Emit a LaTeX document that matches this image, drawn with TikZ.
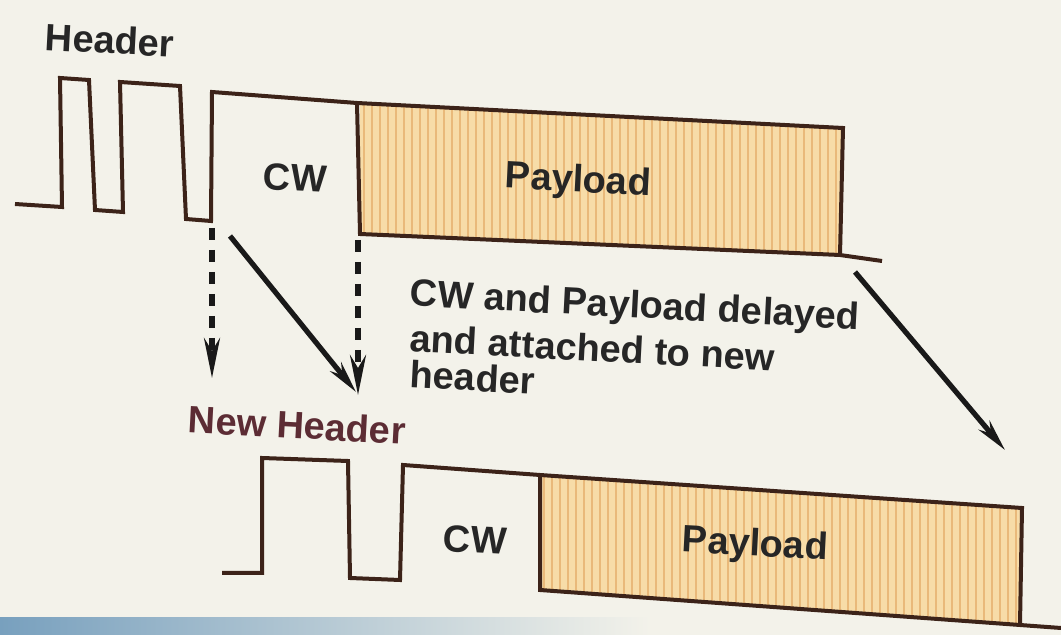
\documentclass[tikz,border=0pt]{standalone}
\usepackage{fontspec}
\setmainfont{Liberation Sans}
\usetikzlibrary{arrows.meta}
\definecolor{bgc}{RGB}{243,242,234}
\definecolor{payc}{RGB}{247,220,168}
\definecolor{stripec}{RGB}{233,185,122}
\definecolor{edgec}{RGB}{60,35,25}
\definecolor{newhc}{RGB}{92,44,52}
\definecolor{bandc}{RGB}{120,160,190}
\begin{document}
\begin{tikzpicture}[x=0.5pt,y=-0.5pt,
  wave/.style={line width=2pt, draw=edgec, line join=miter},
  lbl/.style={font=\bfseries\fontsize{19}{22}\selectfont, text=black!85, inner sep=0pt},
  dasharrow/.style={line width=2.6pt, draw=black!90, dash pattern=on 6pt off 5pt, -{Stealth[length=20pt,width=8pt]}},
  solidarrow/.style={line width=2.6pt, draw=black!90, -{Stealth[length=16pt,width=7pt]}}]
\useasboundingbox (0,0) rectangle (1061,635);
\fill[bgc] (0,0) rectangle (1061,635);
\shade[left color=bandc, right color=bgc] (0,618) rectangle (650,635);
% top payload
\fill[payc] (360,104) -- (843,128) -- (840,255) -- (360,234) -- cycle;
\begin{scope}
\clip (360,104) -- (843,128) -- (840,255) -- (360,234) -- cycle;
\foreach \i in {0,...,60} {\draw[stripec, line width=1.2pt] (364+8*\i,90) -- (364+8*\i,270);}
\end{scope}
% bottom payload
\fill[payc] (540,475) -- (1022,508) -- (1020,625) -- (540,590) -- cycle;
\begin{scope}
\clip (540,475) -- (1022,508) -- (1020,625) -- (540,590) -- cycle;
\foreach \i in {0,...,60} {\draw[stripec, line width=1.2pt] (544+8*\i,460) -- (544+8*\i,640);}
\end{scope}
% top waveform
\draw[wave] (15,204) -- (62,207) -- (60,78) -- (89,80) -- (95,210) -- (123,212) -- (120,82)
  -- (180,86) -- (186,219) -- (211,221) -- (212,92) -- (357,103) -- (360,234) -- (840,255) -- (882,261);
\draw[wave] (357,103) -- (843,128) -- (840,255);
% bottom waveform
\draw[wave] (222,573) -- (262,573) -- (262,458) -- (348,461) -- (350,578) -- (400,580) -- (403,465)
  -- (540,475) -- (540,590) -- (1020,625) -- (1061,628);
\draw[wave] (540,475) -- (1022,508) -- (1020,625);
% labels
\node[lbl, rotate=-3] (hdr) at (110,40) {Header};
\node[lbl, rotate=-3] (cw1) at (295,178) {CW};
\node[lbl, rotate=-3] (pl1) at (578,182) {Payload};
\node[lbl, rotate=-3, text=newhc] (nh) at (297,425) {New Header};
\node[lbl, rotate=-3] (cw2) at (475,540) {CW};
\node[lbl, rotate=-3] (pl2) at (755,546) {Payload};
\node[lbl, rotate=-3, anchor=west] (note1) at (410,296) {CW and Payload delayed};
\node[lbl, rotate=-3, anchor=west] (note2) at (410,338) {and attached to new};
\node[lbl, rotate=-3, anchor=west] (note3) at (410,374) {header};
% arrows
\coordinate (a1s) at (212,228); \coordinate (a1e) at (212,378);
\coordinate (a2s) at (230,236); \coordinate (a2e) at (356,392);
\coordinate (a3s) at (358,240); \coordinate (a3e) at (358,395);
\coordinate (a4s) at (855,272); \coordinate (a4e) at (1005,450);
\draw[dasharrow] (a1s) -- (a1e);
\draw[solidarrow] (a2s) -- (a2e);
\draw[dasharrow] (a3s) -- (a3e);
\draw[solidarrow] (a4s) -- (a4e);
\end{tikzpicture}
\end{document}
